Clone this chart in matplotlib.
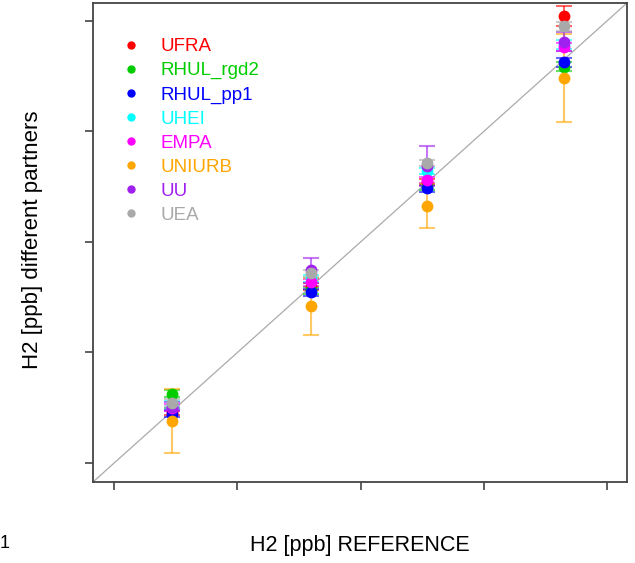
import matplotlib
matplotlib.use("Agg")
import matplotlib.pyplot as plt
from matplotlib.lines import Line2D

plt.rcParams['font.family'] = ['Liberation Sans', 'DejaVu Sans']

# ---- data (ppb) ----
reference = [423.3, 479.9, 526.9, 582.4]
partners = ["UFRA", "RHUL_rgd2", "RHUL_pp1", "UHEI", "EMPA", "UNIURB", "UU", "UEA"]
colors = ["#FF0000", "#00CD00", "#0000FF", "#00FFFF", "#FF00FF", "#FFA500", "#A020F0", "#A9A9A9"]

ufra = [423.2, 479.9, 527.1, 602.3]
ufra_err = [1.5, 1.5, 1.5, 4.5]
rhul_rgd2 = [431.3, 478.1, 524.8, 579.4]
rhul_rgd2_err = [1.5, 1.5, 1.5, 2.0]
rhul_pp1 = [422.3, 477.2, 524.3, 581.4]
rhul_pp1_err = [1.5, 1.5, 1.5, 2.0]
uhei = [426.3, 483.5, 532.1, 589.2]
uhei_err = [1.5, 1.5, 1.5, 2.0]
empa = [425.0, 481.7, 528.0, 588.2]
empa_err = [1.5, 1.5, 1.5, 2.0]
uniurb = [419.1, 470.8, 516.2, 574.1]
uniurb_err = [14.5, 13.0, 10.0, 20.0]
uu = [425.4, 487.1, 534.3, 590.7]
uu_err = [2.0, 5.5, 9.0, 4.5]
uea = [427.2, 485.8, 535.7, 597.7]
uea_err = [1.5, 1.5, 1.5, 2.0]

values = [ufra, rhul_rgd2, rhul_pp1, uhei, empa, uniurb, uu, uea]
errors = [ufra_err, rhul_rgd2_err, rhul_pp1_err, uhei_err, empa_err, uniurb_err, uu_err, uea_err]

ticks = [400, 450, 500, 550, 600]
lims = [391.35, 608.15]

fig = plt.figure(figsize=(6.35, 5.63), dpi=100)
ax = fig.add_axes([93 / 635, (563 - 482) / 563, (627 - 93) / 635, (482 - 3) / 563])

ax.plot(lims, lims, color="#AAAAAA", lw=0.9, zorder=1)

for name, col, vals, errs in zip(partners, colors, values, errors):
    ax.errorbar(reference, vals, yerr=errs, fmt="none", ecolor=col, alpha=0.6,
                elinewidth=1.5, capsize=5.5, capthick=1.5, zorder=2)
    ax.plot(reference, vals, "o", color=col, ms=8.5, mec="none", zorder=3)

ax.set_xlim(lims)
ax.set_ylim(lims)
ax.set_xticks(ticks)
ax.set_yticks(ticks)
ax.set_xticklabels([])
ax.set_yticklabels([])
ax.tick_params(direction="out", length=6, width=1.2, color="#444444")
for s in ax.spines.values():
    s.set_color("#444444")
    s.set_linewidth(1.3)

fig.text(360 / 635, 1 - 546 / 563, "H2 [ppb] REFERENCE", ha="center", va="center", fontsize=15.5)
fig.text(33 / 635, 1 - 240 / 563, "H2 [ppb] different partners", ha="center", va="center",
         rotation=90, fontsize=16)
fig.text(5 / 635, 1 - 543 / 563, "1", ha="center", va="center", fontsize=13)

handles = [Line2D([], [], marker="o", ls="none", color=c, ms=6, mec="none") for c in colors]
ax.legend(handles, partners, loc="upper left", bbox_to_anchor=(121.6 / 635, 1 - 38 / 563),
          bbox_transform=fig.transFigure, frameon=False, labelcolor=colors, fontsize=13.5,
          handlelength=1.0, handletextpad=1.05, labelspacing=0.37, borderpad=0,
          borderaxespad=0)

fig.savefig("out.png", dpi=100)
